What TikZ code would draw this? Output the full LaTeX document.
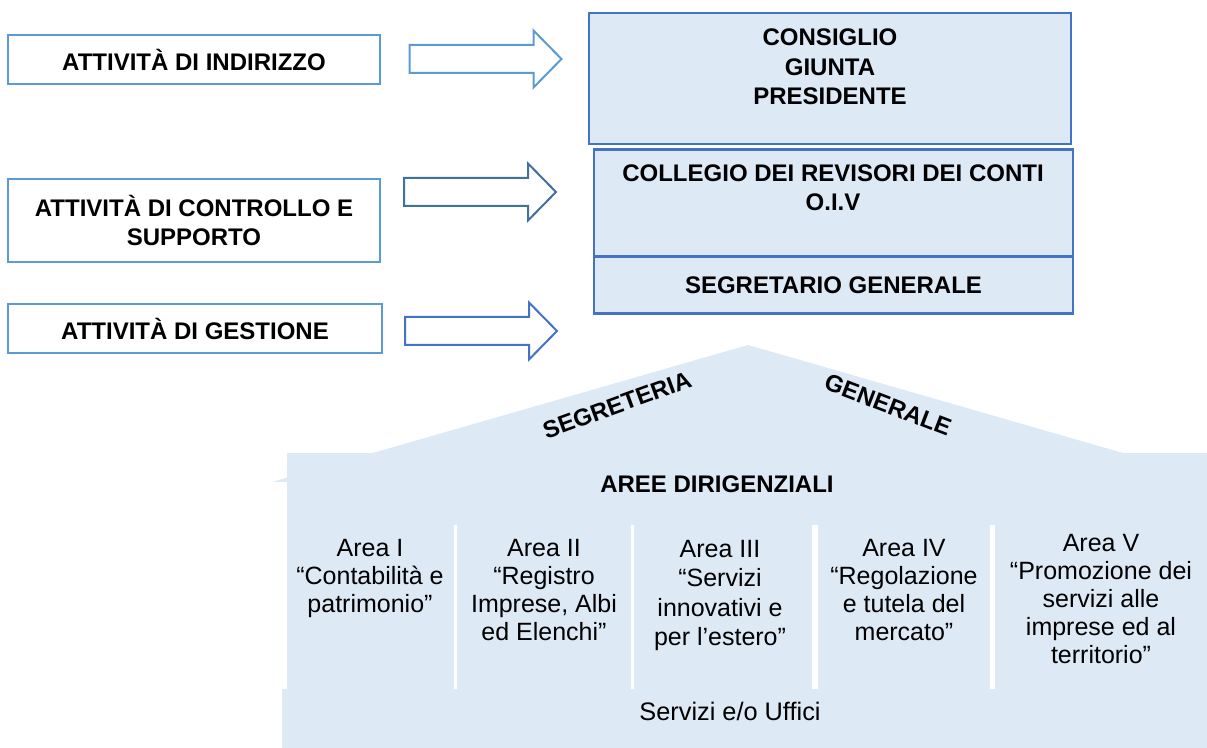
\documentclass[tikz,border=0pt]{standalone}
\usepackage{fontspec}
\setmainfont{Liberation Sans}
\usepackage{tikz}
\usetikzlibrary{positioning}
\definecolor{paleblue}{RGB}{222,233,246}
\definecolor{boxblue}{RGB}{68,114,196}
\definecolor{skyblue}{RGB}{91,155,213}
\definecolor{steelblue}{RGB}{65,113,156}

\begin{document}
\begin{tikzpicture}[x=0.75pt,y=-0.75pt,
          line join=miter,
          actbox/.style={draw=skyblue,line width=1.5pt,fill=white,inner sep=0pt,
                         minimum width=279pt,minimum height=36.75pt,align=center,
                         font=\bfseries\fontsize{18}{22}\selectfont},
          organbox/.style={draw=boxblue,line width=1.8pt,fill=paleblue,inner sep=0pt,
                           minimum width=359.25pt,align=center,
                           font=\bfseries\fontsize{18}{22}\selectfont},
          boldlabel/.style={align=center,inner sep=0pt,font=\bfseries\fontsize{18}{22}\selectfont},
          arealabel/.style={align=center,inner sep=0pt,anchor=north,
                            font=\fontsize{18.75}{21}\selectfont},
          hollowarrow/.style={line width=1.5pt,fill=white}]
        \fill[white] (0,0) rectangle (1207,748);
        \useasboundingbox (0,0) rectangle (1207,748);

        % activities on the left
        \node[actbox] (indirizzo) at (194,60) {ATTIVITÀ DI INDIRIZZO};
        \node[actbox,minimum height=62.25pt] (controllo) at (194,220.5) {ATTIVITÀ DI CONTROLLO E\\SUPPORTO};
        \node[actbox,minimum width=280.5pt] (gestione) at (195,328.5) {ATTIVITÀ DI GESTIONE};

        \foreach \ax/\ay/\ac in {409.5/59/skyblue,404/192/steelblue,405/331/boxblue}
          \draw[hollowarrow,draw=\ac] (\ax,\ay-14) -- ++(124,0) -- ++(0,-14.5)
            -- (\ax+152,\ay) -- (\ax+124,\ay+28.5) -- ++(0,-14.5) -- (\ax,\ay+14) -- cycle;

        % bodies on the right
        \node[organbox,minimum width=361.5pt,minimum height=98.25pt] (organi) at (830,78.5) {};
        \node[boldlabel] (organitxt) at (830,67) {CONSIGLIO\\GIUNTA\\PRESIDENTE};
        \node[organbox,minimum height=80pt] (collegio) at (833.5,203) {};
        \node[boldlabel] (collegiotxt) at (833,187.5) {COLLEGIO DEI REVISORI DEI CONTI\\O.I.V};
        \node[organbox,minimum height=43pt,below=-1.8pt of collegio] (segretario) {SEGRETARIO GENERALE};

        % house
        \fill[paleblue] (748,345) -- (1207,477.2) -- (1207,482) -- (272,482) -- cycle;
        \fill[paleblue] (287,453) rectangle (1207,689);
        \fill[paleblue] (282,689) rectangle (1207,748);
        \foreach \dx/\dw in {455/2.25pt,632/2.25pt,815/4.5pt,992.5/3.75pt}
          \draw[white,line width=\dw] (\dx,525) -- (\dx,689);

        \node[boldlabel,rotate=20] (segreteria) at (617,405) {SEGRETERIA};
        \node[boldlabel,rotate=-21] (generale) at (888,405) {GENERALE};
        \node[boldlabel] (aree) at (717,484) {AREE DIRIGENZIALI};

        \node[arealabel] (area1) at (370,539) {Area I\\“Contabilità e\\patrimonio”};
        \node[arealabel] (area2) at (544,539) {Area II\\“Registro\\Imprese, Albi\\ed Elenchi”};
        \node[arealabel,font=\fontsize{18.75}{22}\selectfont] (area3) at (720,540) {Area III\\“Servizi\\innovativi e\\per l’estero”};
        \node[arealabel] (area4) at (904,539) {Area IV\\“Regolazione\\e tutela del\\mercato”};
        \node[arealabel] (area5) at (1101,534) {Area V\\“Promozione dei\\servizi alle\\imprese ed al\\territorio”};
        \node[inner sep=0pt,font=\fontsize{19}{22}\selectfont] (servizi) at (730,711) {Servizi e/o Uffici};
      \end{tikzpicture}
\end{document}
